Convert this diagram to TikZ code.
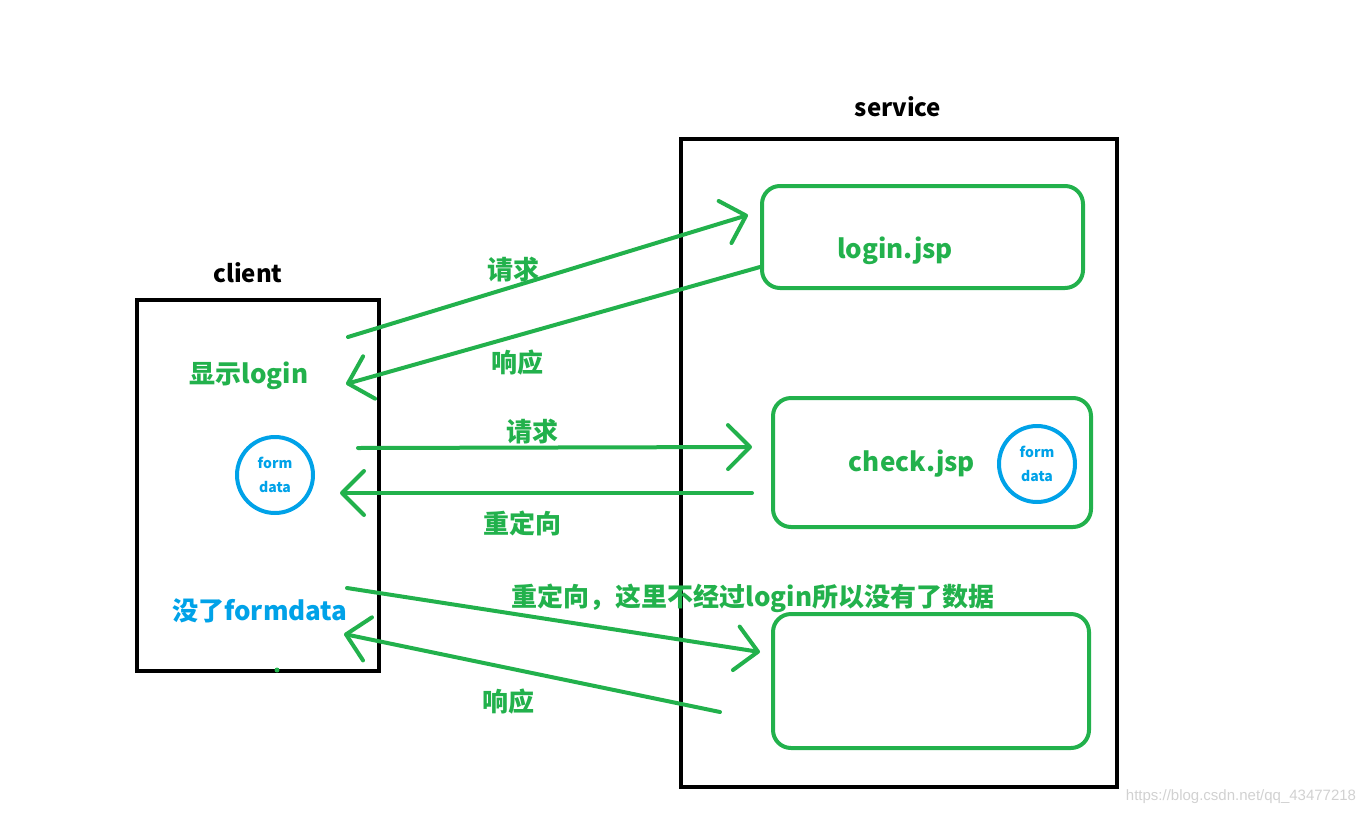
\documentclass[tikz,border=0pt]{standalone}
\usepackage{fontspec}
\setmainfont{Noto Sans CJK SC}
\newfontfamily\urlfont{Liberation Sans}
\usetikzlibrary{arrows.meta}
\definecolor{paintgreen}{RGB}{34,177,76}
\definecolor{paintblue}{RGB}{0,162,232}

\begin{document}
\begin{tikzpicture}[x=1pt,y=-1pt,
    box/.style={draw=black,line width=4.5pt,inner sep=0pt},
    page/.style={draw=paintgreen,line width=4pt,rounded corners=18pt,inner sep=0pt},
    msg/.style={paintgreen,line width=4pt,line cap=round,
      -{Straight Barb[length=22pt,width=44pt,round]}},
    lbl/.style={font=\fontsize{26}{30}\selectfont\bfseries,text=paintgreen,inner sep=0pt},
    tag/.style={font=\fontsize{24}{28}\selectfont\bfseries,inner sep=0pt},
    formdata/.style={circle,draw=paintblue,line width=4pt,minimum size=76pt,inner sep=0pt,
      align=center,text=paintblue,font=\fontsize{14}{24}\selectfont\bfseries}]
  \useasboundingbox (0,0) rectangle (1372,814);

  \node[box,minimum width=242pt,minimum height=371pt] (client) at (258,485.5) {};
  \node[box,minimum width=436pt,minimum height=648pt] (service) at (899,463) {};
  \node[tag] (clienttag) at (248,273) {client};
  \node[tag] (servicetag) at (898,107) {service};
  \node[circle,fill=paintgreen,inner sep=0pt,minimum size=5pt] (dot) at (277,670) {};

  \node[page,minimum width=321pt,minimum height=102pt] (login) at (922.5,237) {};
  \node[page,minimum width=318pt,minimum height=129pt] (check) at (932,462.5) {};
  \node[page,minimum width=316pt,minimum height=134pt] (other) at (931,681) {};
  \node[lbl] (logintext) at (895,251) {login.jsp};
  \node[lbl] (checktext) at (912,464) {check.jsp};
  \node[formdata] (serverform) at (1037,464) {form\\data};

  \node[lbl] (show) at (249,376) {显示login};
  \node[formdata] (clientform) at (275,475) {form\\data};
  \node[lbl,text=paintblue] (lost) at (260,611) {没了formdata};

  \coordinate (c1) at (348,337);  \coordinate (s1) at (748,215);
  \coordinate (s2) at (760,267);  \coordinate (c2) at (346,384);
  \coordinate (c3) at (358,448);  \coordinate (s3) at (752,447);
  \coordinate (s4) at (752,493);  \coordinate (c4) at (340,493);
  \coordinate (c5) at (347,588);  \coordinate (s5) at (760,652);
  \coordinate (s6) at (720,712);  \coordinate (c6) at (344,634);

  \foreach \a/\b in {c1/s1,s2/c2,c3/s3,s4/c4,c5/s5,s6/c6}
    \draw[msg] (\a) -- (\b);

  \node[lbl] (req1) at (513,270) {请求};
  \node[lbl] (resp1) at (517,363) {响应};
  \node[lbl] (req2) at (532,432) {请求};
  \node[lbl] (redir1) at (522,523) {重定向};
  \node[lbl] (redir2) at (753,598) {重定向，这里不经过login所以没有了数据};
  \node[lbl] (resp2) at (508,702) {响应};

  \node[font=\urlfont\fontsize{15}{18}\selectfont,text=black!18,inner sep=0pt] (mark) at (1241,797) {https://blog.csdn.net/qq\_43477218};
\end{tikzpicture}
\end{document}
